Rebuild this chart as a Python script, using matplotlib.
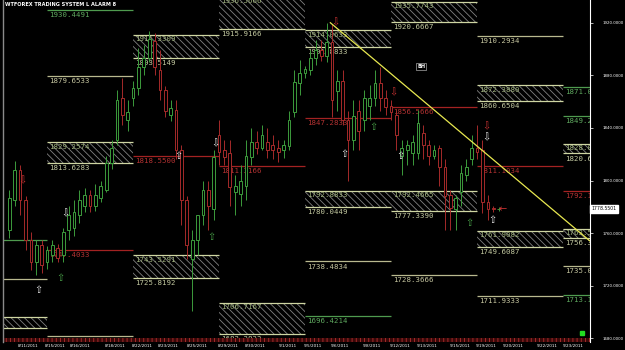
import matplotlib
matplotlib.use("Agg")
import matplotlib.pyplot as plt
import matplotlib.transforms as mtransforms
from matplotlib.patches import Rectangle

TITLE = "WTFOREX TRADING SYSTEM L ALARM 8"

# candles, bar 1 is the first one on screen
opens = [1762, 1785, 1808, 1785, 1755, 1738, 1751, 1738, 1743, 1749,
         1743, 1762, 1764, 1774, 1781, 1789, 1781, 1787, 1793, 1813,
         1831, 1863, 1846, 1863, 1870, 1886, 1893, 1906, 1884, 1869,
         1850, 1854, 1823, 1785, 1740, 1755, 1774, 1793, 1778, 1835,
         1823, 1821, 1791, 1790, 1796, 1818, 1829, 1825, 1829, 1827,
         1825, 1823, 1826, 1852, 1874, 1882, 1884, 1893, 1899, 1895,
         1905, 1868, 1876, 1846, 1831, 1853, 1846, 1857, 1863, 1874,
         1863, 1857, 1850, 1819, 1823, 1821, 1821, 1836, 1827, 1819,
         1825, 1810, 1789, 1778, 1791, 1804, 1816, 1825, 1823, 1784,
         1779, 1778]
highs = [1793, 1815, 1812, 1788, 1761, 1755, 1755, 1750, 1755, 1752,
         1764, 1781, 1785, 1793, 1794, 1793, 1797, 1800, 1819, 1831,
         1869, 1878, 1861, 1876, 1901, 1903, 1914, 1912, 1899, 1872,
         1861, 1861, 1827, 1788, 1762, 1774, 1800, 1800, 1823, 1846,
         1831, 1831, 1804, 1812, 1831, 1840, 1838, 1842, 1840, 1835,
         1831, 1831, 1853, 1884, 1892, 1887, 1899, 1907, 1907, 1920,
         1919, 1884, 1884, 1853, 1861, 1861, 1869, 1873, 1884, 1886,
         1869, 1861, 1854, 1831, 1831, 1835, 1854, 1842, 1831, 1827,
         1827, 1816, 1793, 1789, 1812, 1816, 1835, 1842, 1831, 1789,
         1781, 1780]
lows = [1756, 1781, 1774, 1747, 1732, 1728, 1730, 1733, 1738, 1738,
        1738, 1755, 1758, 1768, 1776, 1776, 1777, 1784, 1791, 1809,
        1827, 1842, 1838, 1857, 1865, 1880, 1890, 1880, 1861, 1848,
        1845, 1816, 1766, 1740, 1701, 1743, 1766, 1762, 1770, 1812,
        1812, 1781, 1774, 1781, 1785, 1812, 1820, 1823, 1817, 1816,
        1814, 1817, 1823, 1848, 1865, 1878, 1880, 1888, 1891, 1890,
        1848, 1853, 1842, 1800, 1823, 1823, 1838, 1846, 1857, 1853,
        1850, 1846, 1823, 1804, 1812, 1812, 1816, 1816, 1812, 1816,
        1796, 1762, 1762, 1762, 1781, 1800, 1812, 1816, 1775, 1770,
        1776, 1777]
closes = [1787, 1808, 1785, 1755, 1738, 1751, 1736, 1747, 1751, 1741,
          1761, 1774, 1776, 1785, 1789, 1781, 1789, 1796, 1813, 1825,
          1861, 1850, 1852, 1870, 1886, 1893, 1908, 1886, 1869, 1853,
          1855, 1823, 1785, 1751, 1755, 1774, 1793, 1781, 1818, 1822,
          1818, 1795, 1796, 1800, 1819, 1829, 1825, 1835, 1823, 1823,
          1822, 1827, 1846, 1875, 1882, 1885, 1893, 1899, 1895, 1905,
          1861, 1876, 1846, 1831, 1849, 1838, 1863, 1863, 1874, 1863,
          1856, 1852, 1835, 1825, 1827, 1829, 1844, 1827, 1819, 1823,
          1810, 1788, 1779, 1787, 1806, 1810, 1825, 1822, 1784, 1778,
          1778, 1778.5]

# weekly pivot zones (bar from, bar to, top, bottom, labels)
zone_from = [-1, 8, 24, 24, 40, 40, 56, 56, 72, 72, 88, 88, 104, 104]
zone_to = [8, 24, 40, 40, 56, 56, 72, 72, 88, 88, 104, 104, 110, 110]
zone_top = [1696.5, 1829.3, 1911.0, 1743.5, 1940.0, 1707.2, 1914.2, 1792.4,
            1936.0, 1792.4, 1872.4, 1761.9, 1828.0, 1763.5]
zone_bot = [1688.2, 1813.4, 1893.0, 1726.0, 1915.6, 1683.5, 1901.6, 1780.2,
            1920.6, 1777.0, 1860.6, 1749.8, 1820.6, 1756.2]
zone_top_lbl = ["", "1829.2574", "1911.3309", "1743.5291", "1936.5666", "1706.7167",
                "1914.0633", "1792.8833", "1935.7743", "1792.4665", "1872.3880",
                "1761.9082", "1828.04", "1763.56"]
zone_bot_lbl = ["", "1813.6283", "1893.5149", "1725.8192", "1915.9166", "1683.3833",
                "1901.8833", "1780.0449", "1920.6667", "1777.3390", "1860.6504",
                "1749.6087", "1820.68", "1756.35"]

# single weekly levels (g = green, k = khaki, r = red)
line_from = [-1, -1, 8, 8, 8, 8, 24, 40, 56, 56, 56, 72, 72, 88, 88, 88,
             104, 104, 104, 104, 104]
line_to = [8, 8, 24, 24, 24, 24, 40, 56, 72, 72, 72, 88, 88, 104, 104, 104,
           110, 110, 110, 110, 110]
line_price = [1755.0, 1725.0, 1930.0, 1879.6, 1747.4, 1682.0, 1818.6, 1811.3,
              1847.3, 1738.5, 1696.9, 1855.8, 1728.4, 1910.3, 1811.1, 1711.9,
              1871.1, 1849.2, 1792.1, 1735.0, 1713.2]
line_kind = ["g", "k", "g", "k", "r", "k", "r", "r", "r", "k", "g", "r", "k",
             "k", "r", "k", "g", "g", "r", "k", "g"]
line_lbl = ["", "", "1930.4491", "1879.6533", "1747.4033", "", "1818.5500",
            "1811.3166", "1847.2833", "1738.4834", "1696.4214", "1856.5666",
            "1728.3666", "1910.2934", "1811.1034", "1711.9333", "1871.06",
            "1849.24", "1792.12", "1735.00", "1713.18"]

# signal arrows (bar, price, symbol, colour)
arrow_bar = [6.3, 3.5, 11.5, 10.4, 32.4, 39.4, 38.5, 63.4, 68.7, 73.7, 72.4,
             61.6, 89.7, 89.7, 90.8, 86.5, 92.8]
arrow_price = [1717, 1800, 1775, 1726, 1819, 1828, 1757, 1820, 1841, 1819,
               1867, 1920, 1841, 1833, 1770, 1768, 1778]
arrow_sym = ["up", "dn", "dn", "up", "up", "dn", "up", "up", "up", "up", "dn",
             "dn", "dn", "dn", "up", "up", "left"]
arrow_col = ["w", "r", "w", "g", "w", "w", "g", "w", "g", "w", "r",
             "r", "r", "w", "w", "g", "r"]

trend_bar = [60.7, 109.0]
trend_price = [1920.0, 1754.0]

date_bar = [4.5, 9.5, 14.2, 20.7, 25.7, 30.5, 35.9, 41.7, 46.7, 52.7, 57.5,
            62.5, 68.5, 73.7, 78.7, 84.8, 89.7, 94.7, 101.0, 105.9]
date_lbl = ["8/11/2011", "8/15/2011", "8/16/2011", "8/18/2011", "8/22/2011",
            "8/23/2011", "8/25/2011", "8/29/2011", "8/30/2011", "9/1/2011",
            "9/5/2011", "9/6/2011", "9/8/2011", "9/12/2011", "9/13/2011",
            "9/15/2011", "9/19/2011", "9/20/2011", "9/22/2011", "9/23/2011"]

price_ticks = [1680, 1720, 1760, 1800, 1840, 1880, 1920]
last_price = 1778.5501

UP_C = "#3c9b3c"
DN_C = "#a52a2a"
LINE_C = {"g": "#4f9b4f", "k": "#b9b98f", "r": "#a32222"}
TEXT_C = {"g": "#5fa85f", "k": "#c6c6a0", "r": "#b33232"}
ARROW_C = {"w": "#e8e8e8", "r": "#c83232", "g": "#48a048"}
ARROW_S = {"up": "\u21e7", "dn": "\u21e9", "left": "\u2190"}
ZONE_EDGE = "#cfd6a2"
LBL_FONT = dict(family="DejaVu Sans Mono", fontsize=5.3, clip_on=True)

plt.rcParams["hatch.linewidth"] = 0.6
plt.rcParams["hatch.color"] = "#808080"

fig = plt.figure(figsize=(6.25, 3.5), dpi=100, facecolor="black")
ax = fig.add_axes([3 / 625, 8 / 350, 587 / 625, 342 / 350])
ax.set_facecolor("black")
ax.set_xlim(-0.19, 109.0)
ax.set_ylim(1677.2, 1937.3)

# zones
for x0, x1, top, bot, lt, lb in zip(zone_from, zone_to, zone_top, zone_bot,
                                    zone_top_lbl, zone_bot_lbl):
    ax.add_patch(Rectangle((x0, bot), x1 - x0, top - bot, facecolor="black",
                           edgecolor="#808080", hatch="\\\\\\\\\\", lw=0, zorder=1))
    ax.hlines([top, bot], x0, x1, color=ZONE_EDGE, lw=0.9, zorder=2)
    ax.text(x0 + 0.3, top - 1.3, lt, color="#9fb27c", va="top", ha="left",
            zorder=2, **LBL_FONT)
    ax.text(x0 + 0.3, bot - 1.6, lb, color="#c3c9a0", va="top", ha="left",
            zorder=2, **LBL_FONT)

# single levels
for x0, x1, p, k, lbl in zip(line_from, line_to, line_price, line_kind, line_lbl):
    ax.hlines(p, x0, x1, color=LINE_C[k], lw=0.9, zorder=2)
    ax.text(x0 + 0.3, p - 1.6, lbl, color=TEXT_C[k], va="top", ha="left",
            zorder=2, **LBL_FONT)

# candles
for i, (o, h, l, c) in enumerate(zip(opens, highs, lows, closes), start=1):
    col = UP_C if c >= o else DN_C
    ax.vlines(i, l, h, color=col, lw=0.7, zorder=3)
    ax.add_patch(Rectangle((i - 0.25, min(o, c)), 0.5, max(abs(c - o), 0.4),
                           facecolor="black", edgecolor=col, lw=0.7, zorder=4))

# trend line
ax.plot(trend_bar, trend_price, color="#e8e850", lw=0.9, zorder=5)

# arrows
for b, p, s, c in zip(arrow_bar, arrow_price, arrow_sym, arrow_col):
    ax.text(b, p, ARROW_S[s], color=ARROW_C[c], fontsize=7, ha="center",
            va="center", zorder=6)

ax.text(77.6, 1886.5, "BH", color="white", fontsize=3.6, fontweight="bold",
        ha="center", va="center", zorder=6,
        bbox=dict(facecolor="black", edgecolor="#d0d0d0", lw=0.4, pad=0.6))

# bottom indicator strip
ax.axhspan(1677.2, 1680.6, facecolor="#3a0808", edgecolor="#b03030",
           hatch="||||", lw=0, zorder=2)
ax.plot([107.5], [1684.3], marker="s", ms=3.5, color="#22dd22", zorder=6)

fig.text(5 / 625, 1 - 5 / 350, TITLE, color="white", fontsize=3.6,
         fontweight="bold", ha="left", va="center")

# axes and scales
for side in ["top", "bottom"]:
    ax.spines[side].set_visible(False)
ax.spines["right"].set_color("white")
ax.spines["right"].set_linewidth(0.8)
ax.spines["left"].set_color("#8a8a8a")
ax.spines["left"].set_linewidth(1.0)

ax.yaxis.tick_right()
ax.set_yticks(price_ticks)
ax.set_yticklabels([f"{t:.4f}" for t in price_ticks])
ax.tick_params(axis="y", colors="white", labelsize=2.8, length=2, width=0.5, pad=7)
ax.set_xticks(date_bar)
ax.set_xticklabels(date_lbl)
ax.tick_params(axis="x", colors="white", labelsize=3.0, length=0, pad=1.5)

trans = mtransforms.blended_transform_factory(ax.transAxes, ax.transData)
ax.text(1.002, last_price, f"{last_price:.4f}", transform=trans, color="black",
        fontsize=3.3, ha="left", va="center",
        bbox=dict(facecolor="white", edgecolor="white", pad=1.0))

fig.savefig("out.png", dpi=100, facecolor="black")
